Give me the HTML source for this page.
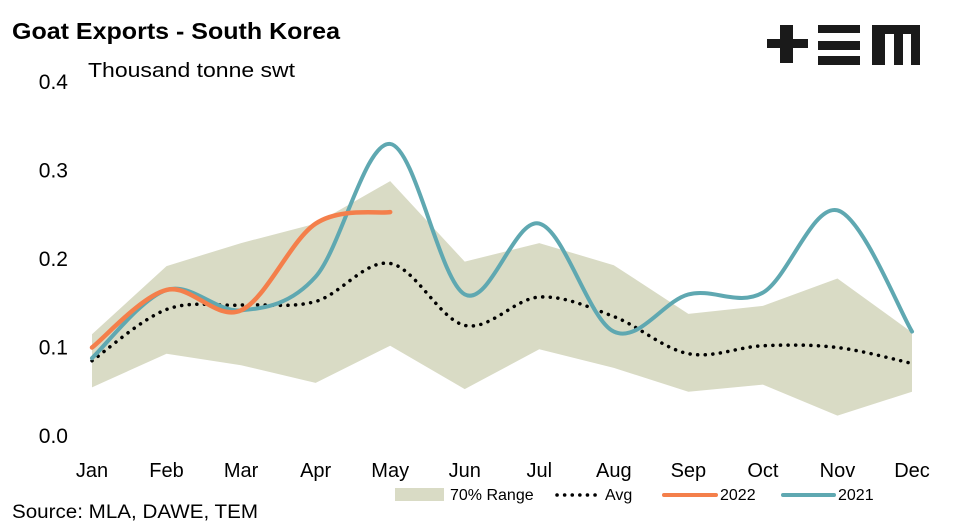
<!DOCTYPE html>
<html><head><meta charset="utf-8"><style>
body{margin:0;background:#fff;font-family:"Liberation Sans",sans-serif}
svg text{font-family:"Liberation Sans",sans-serif}
</style></head><body>
<svg width="954" height="527" viewBox="0 0 954 527">
<text x="12" y="39" font-size="23" font-weight="bold" fill="#000" textLength="328" lengthAdjust="spacingAndGlyphs">Goat Exports - South Korea</text>
<text x="88" y="77" font-size="20" fill="#000" textLength="207" lengthAdjust="spacingAndGlyphs">Thousand tonne swt</text>
<g fill="#1a1a1a">
<rect x="767" y="39" width="41" height="9"/><rect x="780" y="25" width="13" height="38"/>
<rect x="818" y="25" width="42" height="8"/><rect x="818" y="41" width="42" height="9"/><rect x="818" y="56" width="42" height="9"/>
<rect x="872" y="25" width="48" height="40"/><rect x="885" y="34" width="9" height="31" fill="#fff"/><rect x="903" y="34" width="8" height="31" fill="#fff"/>
</g>
<g id="axes"></g>
<g id="plot"></g>
<text x="12" y="518" font-size="19" fill="#000" textLength="246" lengthAdjust="spacingAndGlyphs">Source: MLA, DAWE, TEM</text>
<g font-size="16">
<rect x="395" y="488" width="49" height="13" fill="#d9dbc5"/>
<text x="450" y="500">70% Range</text>
<line x1="557" y1="495" x2="598" y2="495" stroke="#000" stroke-width="3.5" stroke-dasharray="0.1 7.5" stroke-linecap="round"/>
<text x="605" y="500">Avg</text>
<line x1="664" y1="495" x2="716" y2="495" stroke="#f47f4b" stroke-width="4" stroke-linecap="round"/>
<text x="720" y="500">2022</text>
<line x1="783" y1="495" x2="834" y2="495" stroke="#5fa8b1" stroke-width="4" stroke-linecap="round"/>
<text x="838" y="500">2021</text>
</g>
</svg>
<script>
const months=["Jan","Feb","Mar","Apr","May","Jun","Jul","Aug","Sep","Oct","Nov","Dec"];
const yTicks=["0.0","0.1","0.2","0.3","0.4"];
const rangeHigh=[0.115,0.192,0.218,0.24,0.288,0.197,0.218,0.193,0.138,0.147,0.178,0.117];
const rangeLow=[0.055,0.093,0.08,0.06,0.102,0.053,0.098,0.077,0.05,0.058,0.023,0.05];
const avg=[0.085,0.143,0.148,0.152,0.195,0.125,0.157,0.135,0.093,0.102,0.1,0.082];
const s2022=[0.1,0.165,0.142,0.24,0.253];
const s2021=[0.088,0.165,0.142,0.18,0.33,0.16,0.24,0.118,0.16,0.162,0.255,0.118];
const NS="http://www.w3.org/2000/svg";
const x=i=>92+i*(820/11);
const y=v=>436-v*885;
const axes=document.getElementById('axes'),plot=document.getElementById('plot');
function mk(tag,attrs,parent){const e=document.createElementNS(NS,tag);for(const k in attrs)e.setAttribute(k,attrs[k]);parent.appendChild(e);return e;}
yTicks.forEach(t=>{const e=mk('text',{x:68,y:y(+t)+7,'font-size':21,'text-anchor':'end'},axes);e.textContent=t;

});
months.forEach((m,i)=>{const e=mk('text',{x:x(i),y:477,'font-size':20,'text-anchor':'middle'},axes);e.textContent=m;

});
let pts=rangeHigh.map((v,i)=>x(i)+','+y(v)).concat(rangeLow.map((v,i)=>x(i)+','+y(v)).reverse());
const poly=mk('polygon',{points:pts.join(' '),fill:'#d9dbc5'},plot);


function smooth(vals){const p=vals.map((v,i)=>[x(i),y(v)]);let d='M'+p[0];
for(let i=0;i<p.length-1;i++){const p0=p[i-1]||p[i],p1=p[i],p2=p[i+1],p3=p[i+2]||p2;
const c1=[p1[0]+(p2[0]-p0[0])/6,p1[1]+(p2[1]-p0[1])/6],c2=[p2[0]-(p3[0]-p1[0])/6,p2[1]-(p3[1]-p1[1])/6];
d+=' C'+c1+' '+c2+' '+p2;}return d;}
const a=mk('path',{d:smooth(avg),fill:'none',stroke:'#000','stroke-width':3.5,'stroke-dasharray':'0.1 7.5','stroke-linecap':'round'},plot);


const l1=mk('path',{d:smooth(s2021),fill:'none',stroke:'#5fa8b1','stroke-width':4,'stroke-linecap':'round'},plot);


const l2=mk('path',{d:smooth(s2022),fill:'none',stroke:'#f47f4b','stroke-width':4.5,'stroke-linecap':'round'},plot);


</script>
</body></html>
